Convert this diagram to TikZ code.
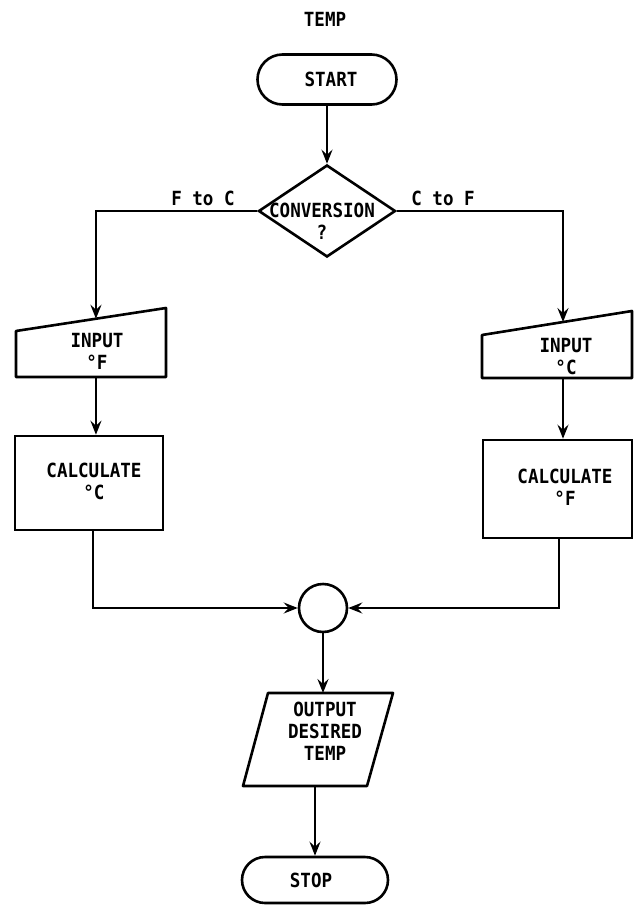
\documentclass[tikz,border=0pt]{standalone}
\usepackage{fontspec}
\setmainfont[FakeStretch=0.9]{DejaVu Sans Mono}
\usetikzlibrary{shapes.geometric,shapes.misc,arrows.meta,calc}
\begin{document}
\begin{tikzpicture}[x=1pt,y=-1pt,
  lw/.style={line width=2.6pt},
  arr/.style={lw,-{Stealth[length=14pt,width=11pt,inset=5pt]}},
  txt/.style={font=\fontsize{19.5}{22}\selectfont\bfseries,align=center,inner sep=0pt},
  term/.style={lw,draw,rounded rectangle,minimum width=139pt,minimum height=50pt,inner sep=0pt},
  procbox/.style={lw,draw,rectangle,inner sep=0pt}]
\useasboundingbox (0,0) rectangle (635,909);

\node[txt] (title) at (325,19) {TEMP};

\node[term] (start) at (327,79.5) {};
\node[txt] (startT) at (331,79) {START};

\node[lw,draw,diamond,minimum width=137pt,minimum height=92pt,inner sep=0pt] (dec) at (327,211) {};
\node[txt] (decT) at (322,221) {CONVERSION\\?};

\draw[arr] (start) -- (dec.north);

\node[txt] (lblL) at (203,198) {F to C};
\node[txt] (lblR) at (443,198) {C to F};

% manual input F
\coordinate (fA) at (16,331);
\coordinate (fB) at (166,308);
\coordinate (fC) at (166,377);
\coordinate (fD) at (16,377);
\draw[lw,line join=round] (fA) -- (fB) -- (fC) -- (fD) -- cycle;
\coordinate (fTop) at ($(fA)!0.533!(fB)$);
\node[txt] (inFT) at (97,351) {INPUT\\°F};

% manual input C
\coordinate (cA) at (482,335);
\coordinate (cB) at (632,311);
\coordinate (cC) at (632,378);
\coordinate (cD) at (482,378);
\draw[lw,line join=round] (cA) -- (cB) -- (cC) -- (cD) -- cycle;
\coordinate (cTop) at ($(cA)!0.54!(cB)$);
\node[txt] (inCT) at (566,357) {INPUT\\°C};

\draw[arr] (dec.west) -| (fTop);
\draw[arr] (dec.east) -| (cTop);

% calculate boxes
\node[procbox,minimum width=148pt,minimum height=94pt] (calcC) at (89,483) {};
\node[txt] (calcCT) at (94,481) {CALCULATE\\°C};
\node[procbox,minimum width=149pt,minimum height=98pt] (calcF) at (557.5,489) {};
\node[txt] (calcFT) at (565,487) {CALCULATE\\°F};

\draw[arr] (fTop |- fD) -- (fTop |- calcC.north);
\draw[arr] (cTop |- cD) -- (cTop |- calcF.north);

% connector
\node[lw,draw,circle,minimum size=48pt,inner sep=0pt] (join) at (323,608) {};
\draw[arr] ([xshift=4pt]calcC.south) |- (join.west);
\draw[arr] ([xshift=1.5pt]calcF.south) |- (join.east);

% output
\coordinate (oA) at (268,693);
\coordinate (oB) at (393,693);
\coordinate (oC) at (367,786);
\coordinate (oD) at (243,786);
\draw[lw,line join=round] (oA) -- (oB) -- (oC) -- (oD) -- cycle;
\node[txt] (outT) at (325,731) {OUTPUT\\DESIRED\\TEMP};

\draw[arr] (join.south) -- (join.south |- oA);

\node[term,minimum width=146pt,minimum height=46pt] (stop) at (315,880) {};
\node[txt] (stopT) at (311,880) {STOP};
\draw[arr] (stop.north |- oD) -- (stop.north);
\end{tikzpicture}
\end{document}
